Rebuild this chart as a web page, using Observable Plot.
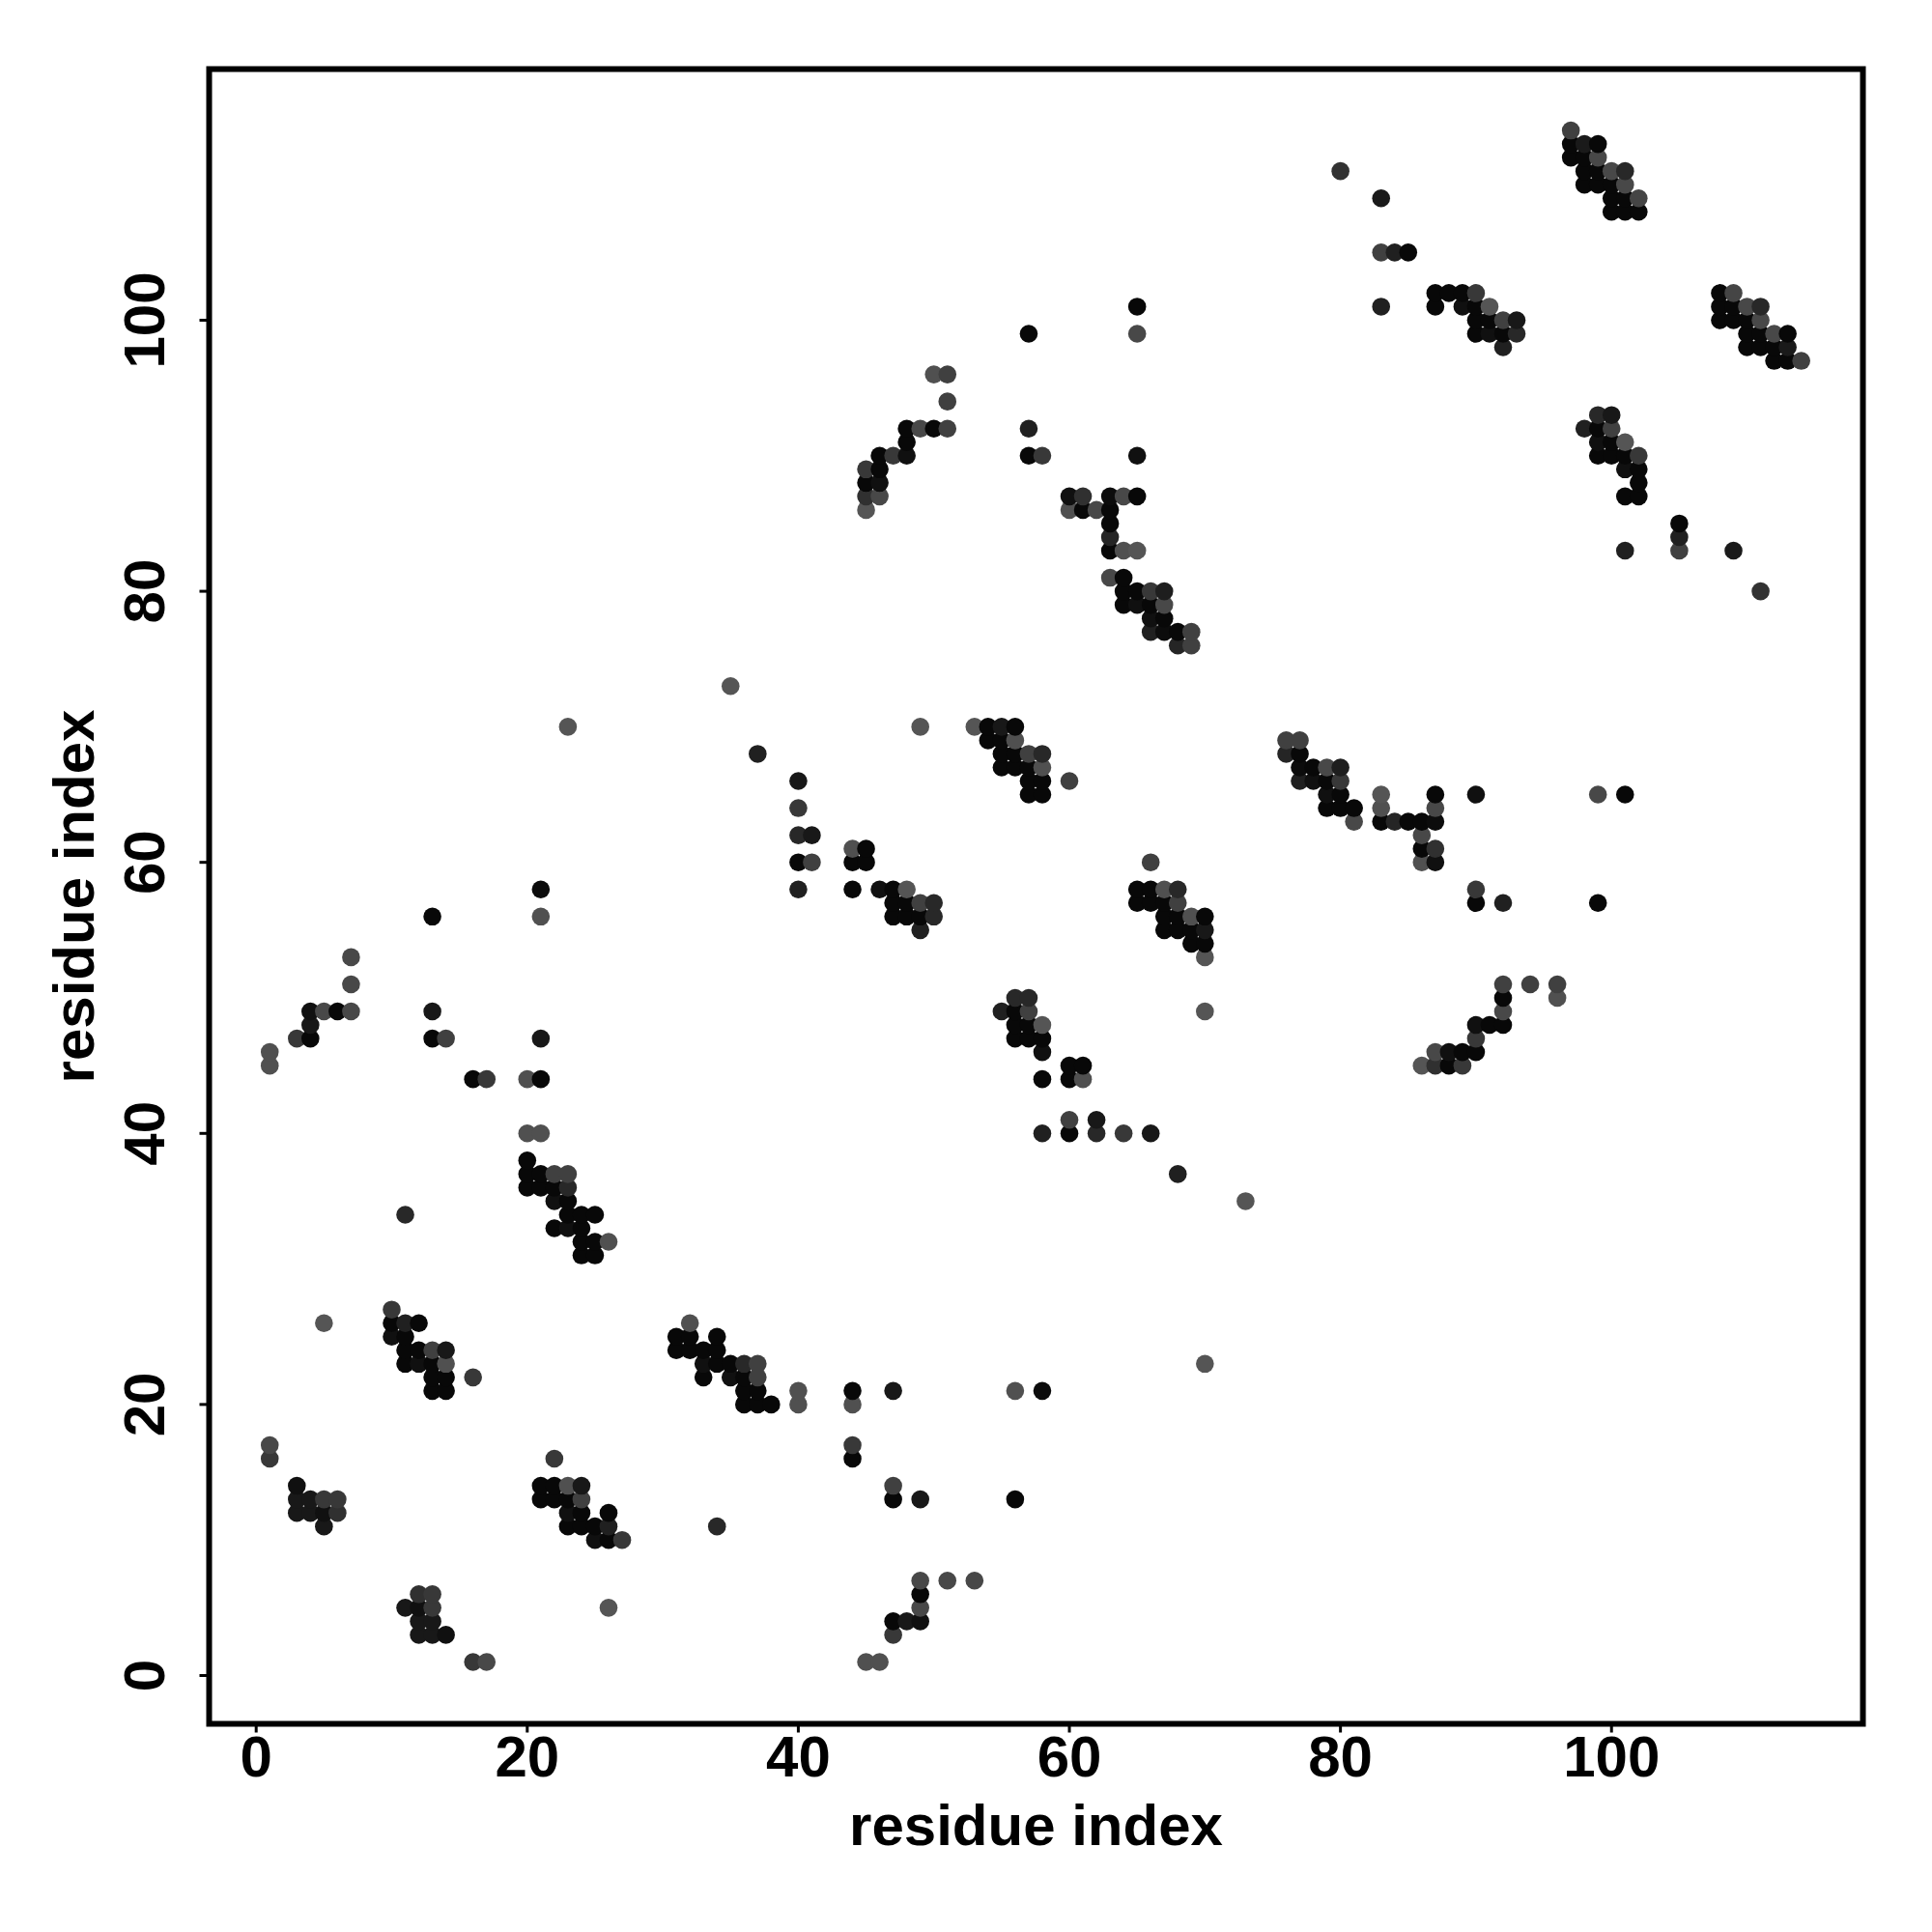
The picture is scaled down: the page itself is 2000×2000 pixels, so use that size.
<!DOCTYPE html>
<html>
<head>
<meta charset="utf-8">
<script src="https://cdn.jsdelivr.net/npm/d3@7"></script>
<script src="https://cdn.jsdelivr.net/npm/@observablehq/plot@0.6"></script>
<style>html,body{margin:0;padding:0;background:#fff}</style>
</head>
<body>
<div id="chart"></div>
<script>
// Each contact: [residue i, residue j, grey level]. The map is symmetric, so the i<j half is listed.
const k = 8;
const helixTop = [[97,114,64],[97,113,k],[97,112,k],[98,113,26],[98,112,k],[99,113,k],[99,112,72],[98,111,k],[99,111,k],[100,111,72],[101,111,40],[98,110,k],[99,110,k],[100,110,k],[101,110,72],[100,109,k],[101,109,k],[102,109,69],[100,108,k],[101,108,k],[102,108,k]];
const helixUpper = [[87,102,k],[88,102,k],[89,102,k],[90,102,56],[87,101,k],[89,101,16],[90,101,k],[91,101,85],[90,100,k],[91,100,k],[92,100,64],[93,100,24],[90,99,k],[91,99,16],[92,99,k],[93,99,40],[92,98,32]];
const sparseTop = [[80,111,50],[83,109,26],[83,105,64],[84,105,32],[85,105,k],[83,101,32],[65,101,k],[65,99,72],[57,99,k],[57,92,32],[57,90,k],[58,90,56],[65,90,16]];
const strandQ = [[45,89,56],[45,88,k],[45,87,48],[45,86,85],[46,90,k],[46,89,k],[46,88,16],[46,87,72],[47,90,56],[48,92,k],[48,91,k],[48,90,16],[49,92,72],[50,92,k],[51,92,64],[51,94,64],[50,96,80],[51,96,64]];
const blockE = [[60,87,16],[61,87,48],[63,87,12],[64,87,72],[65,87,k],[60,86,80],[61,86,k],[62,86,72],[63,86,k],[63,85,k],[63,84,37],[63,83,k],[64,83,80],[65,83,85],[63,81,72],[64,81,k],[64,80,k],[65,80,k],[66,80,56],[67,80,30],[64,79,k],[65,79,16],[66,79,k],[67,79,72],[66,78,16],[67,78,k],[66,77,32],[67,77,12],[68,77,k],[69,77,64],[68,76,37],[69,76,64]];
const blockG = [[53,70,85],[54,70,k],[55,70,24],[56,70,k],[54,69,k],[55,69,k],[56,69,80],[55,68,k],[56,68,k],[57,68,64],[58,68,40],[55,67,k],[56,67,k],[57,67,k],[58,67,80],[57,66,k],[58,66,k],[60,66,64],[57,65,k],[58,65,k]];
const blockJ = [[44,61,80],[45,61,k],[44,60,k],[45,60,k],[44,58,k],[46,58,16],[47,58,k],[48,58,85],[47,57,k],[48,57,k],[49,57,64],[50,57,40],[47,56,k],[48,56,k],[49,56,k],[50,56,40],[49,55,32]];
const sparseMid = [[40,66,24],[40,64,56],[40,62,40],[41,62,24],[40,60,k],[41,60,64],[40,58,32],[37,68,32],[35,73,85],[23,70,85],[49,70,85],[21,58,12],[21,56,80],[13,56,k],[7,53,72]];
const strandS = [[1,46,80],[1,45,80],[3,47,56],[4,47,k],[4,48,24],[4,49,16],[5,49,72],[6,49,k],[7,49,72],[7,51,72],[13,49,24],[13,47,k],[14,47,64],[16,44,k],[17,44,56],[20,44,80],[21,44,k],[21,47,24],[20,40,80],[21,40,80]];
const blockK = [[20,38,k],[20,37,k],[21,37,k],[22,37,64],[23,37,64],[20,36,k],[21,36,k],[22,36,k],[23,36,40],[22,35,16],[23,35,k],[23,34,k],[24,34,k],[25,34,k],[22,33,k],[23,33,16],[24,33,k],[24,32,k],[25,32,k],[26,32,80],[24,31,k],[25,31,k]];
const blockL = [[10,27,56],[10,26,k],[11,26,32],[12,26,k],[10,25,16],[11,25,k],[11,24,k],[12,24,k],[13,24,64],[14,24,24],[11,23,k],[12,23,16],[13,23,k],[14,23,80],[13,22,k],[14,22,k],[16,22,56],[13,21,k],[14,21,k]];
const sparseLow = [[11,34,40],[5,26,85],[1,17,72],[1,16,56]];
const blockO = [[3,14,16],[3,13,24],[4,13,24],[5,13,56],[6,13,56],[3,12,24],[4,12,24],[5,12,16],[6,12,48],[5,11,24]];

const tickValues = [0, 20, 40, 60, 80, 100];
const axisLabel = "residue index";

const half = [helixTop, helixUpper, sparseTop, strandQ, blockE, blockG, blockJ, sparseMid, strandS, blockK, blockL, sparseLow, blockO].flat();
const table = half.flatMap(([i, j, g]) => [{x: i, y: j, g}, {x: j, y: i, g}]).sort((a, b) => a.x - b.x || a.y - b.y);

const font = "'Liberation Sans', Arial, sans-serif";
const chart = Plot.plot({
  width: 2000, height: 2000,
  marginLeft: 216, marginRight: 72, marginTop: 71, marginBottom: 216,
  style: {background: "#fff", fontFamily: font},
  x: {domain: [-3.471, 118.55]},
  y: {domain: [-3.564, 118.53]},
  marks: [
    Plot.dot(table, {x: "x", y: "y", r: 9.3, fill: d => `rgb(${d.g},${d.g},${d.g})`, stroke: "none"}),
    Plot.frame({stroke: "#000", strokeWidth: 6, fill: "none"}),
    Plot.axisX({ticks: tickValues, tickFormat: d => d, tickSize: 9.5, tickPadding: 2.5, strokeWidth: 3,
      fontSize: 60, fontWeight: "bold", fill: "#000", stroke: "#000",
      label: axisLabel, labelAnchor: "center", labelArrow: "none", labelOffset: 125}),
    Plot.axisY({ticks: tickValues, tickFormat: d => d, tickSize: 9.5, tickPadding: 37.5, strokeWidth: 3,
      tickRotate: -90, textAnchor: "middle", lineAnchor: "bottom", fontSize: 60, fontWeight: "bold", fill: "#000", stroke: "#000",
      label: axisLabel, labelAnchor: "center", labelArrow: "none", labelOffset: 162})
  ]
});
document.getElementById("chart").appendChild(chart);
</script>
</body>
</html>
